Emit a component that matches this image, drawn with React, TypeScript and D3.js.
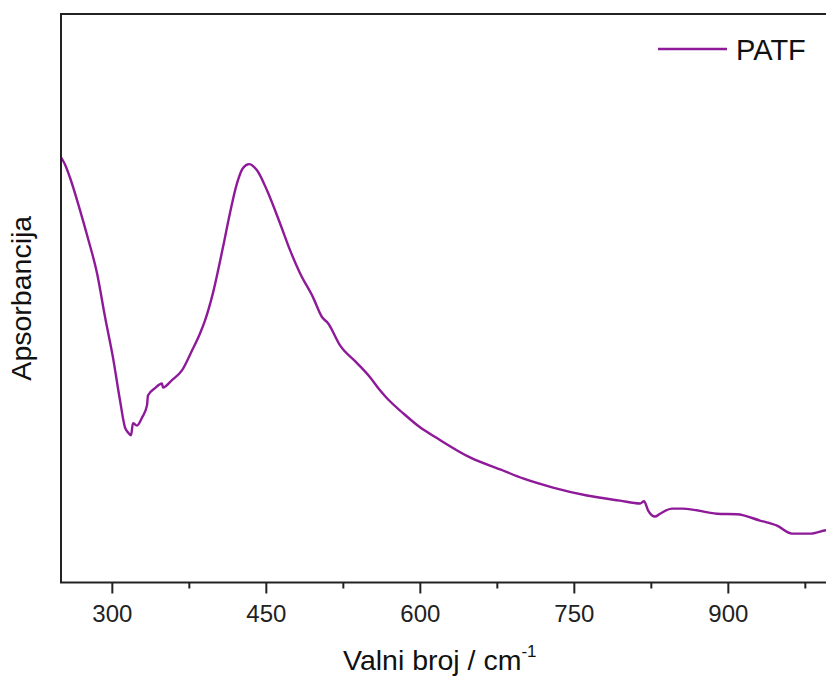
import React from "react";
import * as d3 from "d3";

const wavenumber = [
  250, 254.0, 258.8, 268.5, 276.3, 285.1, 292.9, 300.6, 307.5, 312.3, 315.3, 318.2, 320.1, 324.0, 328.9,
  333.8, 334.7, 341.6, 348.4, 349.3, 358.1, 367.8, 377.6, 385.4, 390.3, 398.0, 407.8, 414.6, 421.4,
  427.3, 433.1, 440.9, 450.6, 463.3, 473.0, 482.8, 495.4, 504.2, 510.1, 521.8, 538.3, 551.0, 560.7,
  567.5, 583.1, 599.7, 616.2, 648.4, 680.5, 700.0, 729.2, 762.3, 794.5, 814.0, 817.9, 821.8, 828.6,
  833.4, 845.1, 855.8, 889.0, 908.4, 930.8, 947.4, 962.0, 979.5, 995.1, 1000,
];
const absorbance = [
  0.748, 0.735, 0.712, 0.655, 0.605, 0.544, 0.467, 0.396, 0.32, 0.273, 0.264, 0.259, 0.28, 0.276, 0.29,
  0.312, 0.329, 0.342, 0.35, 0.343, 0.356, 0.373, 0.408, 0.438, 0.461, 0.509, 0.59, 0.65, 0.702,
  0.729, 0.736, 0.725, 0.69, 0.632, 0.585, 0.544, 0.502, 0.467, 0.456, 0.417, 0.386, 0.361, 0.338,
  0.324, 0.298, 0.273, 0.254, 0.22, 0.197, 0.183, 0.167, 0.153, 0.144, 0.139, 0.143, 0.127, 0.116,
  0.121, 0.13, 0.13, 0.121, 0.12, 0.109, 0.1, 0.086, 0.086, 0.092, 0.093,
];
const majorTicks = [300, 450, 600, 750, 900];
const minorTicks = [375, 525, 675, 825, 975];
const seriesName = "PATF";
const xTitle = "Valni broj / cm";
const yTitle = "Apsorbancija";

const W = 826;
const H = 680;
const left = 61;
const top = 14;
const bottom = 582.5;
const right = 831;
const FONT = "'Liberation Sans', Arial, sans-serif";
const LINE = "#8e1a99";

export default function App() {
  const x = d3.scaleLinear().domain([250, 1000]).range([left, right]);
  const y = d3.scaleLinear().domain([0, 1]).range([bottom, top]);
  const data = wavenumber.map((w, i) => [w, absorbance[i]] as [number, number]);
  const line = d3
    .line<[number, number]>()
    .curve(d3.curveMonotoneX)
    .x((d) => x(d[0]))
    .y((d) => y(d[1]));

  return (
    <svg
      width={W}
      height={H}
      style={{ position: "absolute", left: 0, top: 0, background: "#fff" }}
      fontFamily={FONT}
    >
      <defs>
        <clipPath id="plot">
          <rect x={left} y={top} width={right - left} height={bottom - top} />
        </clipPath>
      </defs>
      <path
        d={line(data) || ""}
        fill="none"
        stroke={LINE}
        strokeWidth={2.4}
        strokeLinejoin="round"
        clipPath="url(#plot)"
      />
      <rect
        x={left}
        y={top}
        width={right - left}
        height={bottom - top}
        fill="none"
        stroke="#222"
        strokeWidth={2}
      />
      {majorTicks.map((t) => (
        <g key={"M" + t}>
          <line x1={x(t)} x2={x(t)} y1={bottom} y2={bottom + 11} stroke="#222" strokeWidth={2} />
          <text x={x(t)} y={621.5} textAnchor="middle" fontSize={24} fill="#222">
            {t}
          </text>
        </g>
      ))}
      {minorTicks.map((t) => (
        <line key={"m" + t} x1={x(t)} x2={x(t)} y1={bottom} y2={bottom + 6} stroke="#222" strokeWidth={2} />
      ))}
      <text x={343} y={670} fontSize={28.5} fill="#111">
        {xTitle}
        <tspan fontSize={17} dy={-13}>
          -1
        </tspan>
      </text>
      <text
        transform={`translate(31, ${(top + bottom) / 2}) rotate(-90)`}
        textAnchor="middle"
        fontSize={28.5}
        fill="#111"
      >
        {yTitle}
      </text>
      <line x1={658} x2={727} y1={49} y2={49} stroke={LINE} strokeWidth={2.4} />
      <text x={736} y={59.5} fontSize={29} fill="#111">
        {seriesName}
      </text>
    </svg>
  );
}
